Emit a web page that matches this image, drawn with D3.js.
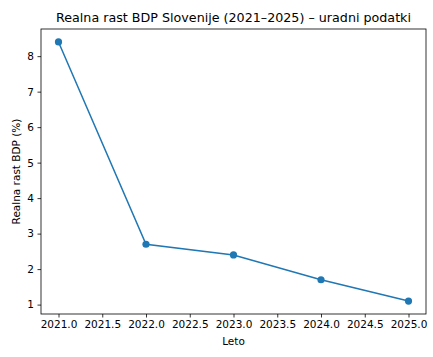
<!DOCTYPE html>
<html><head><meta charset="utf-8">
<script src="https://cdn.jsdelivr.net/npm/d3@7"></script>
<style>body{margin:0;background:#fff}svg{display:block}text{font-family:"DejaVu Sans",sans-serif;fill:#000}</style>
</head><body>
<script>
const years = [2021, 2022, 2023, 2024, 2025];
const growth = [8.4, 2.7, 2.4, 1.7, 1.1];
const xTicks = [2021.0, 2021.5, 2022.0, 2022.5, 2023.0, 2023.5, 2024.0, 2024.5, 2025.0];
const yTicks = [1, 2, 3, 4, 5, 6, 7, 8];

const W = 433, H = 357;
const m = {l: 41, r: 7, t: 29, b: 43};
const svg = d3.select("body").append("svg").attr("width", W).attr("height", H);
const x = d3.scaleLinear().domain([2020.8, 2025.2]).range([m.l, W - m.r]);
const y = d3.scaleLinear().domain([0.735, 8.765]).range([H - m.b, m.t]);

const xa = svg.append("g").attr("transform", `translate(0,${H - m.b})`)
  .call(d3.axisBottom(x).tickValues(xTicks).tickFormat(d3.format(".1f")).tickSize(3.5).tickPadding(3.5));
const ya = svg.append("g").attr("transform", `translate(${m.l},0)`)
  .call(d3.axisLeft(y).tickValues(yTicks).tickFormat(d3.format("d")).tickSize(3.5).tickPadding(3.5));
[xa, ya].forEach(a => {
  a.select(".domain").remove();
  a.selectAll("text").style("font-size", "10.5px").style("font-family", "DejaVu Sans");
  a.selectAll("line").attr("stroke", "#000").attr("stroke-width", 0.8);
});

svg.append("rect").attr("x", m.l).attr("y", m.t).attr("width", W - m.r - m.l).attr("height", H - m.b - m.t)
  .attr("fill", "none").attr("stroke", "#000").attr("stroke-width", 0.8);

const pts = years.map((d, i) => [d, growth[i]]);
svg.append("path").datum(pts)
  .attr("d", d3.line().x(d => x(d[0])).y(d => y(d[1])))
  .attr("fill", "none").attr("stroke", "#1f77b4").attr("stroke-width", 1.5);
svg.selectAll("circle.pt").data(pts).enter().append("circle")
  .attr("cx", d => x(d[0])).attr("cy", d => y(d[1])).attr("r", 3.6).attr("fill", "#1f77b4");

svg.append("text").attr("x", (m.l + W - m.r) / 2).attr("y", 22).attr("text-anchor", "middle")
  .style("font-size", "12.7px").text("Realna rast BDP Slovenije (2021–2025) – uradni podatki");
svg.append("text").attr("x", (m.l + W - m.r) / 2).attr("y", 345).attr("text-anchor", "middle")
  .style("font-size", "10.5px").text("Leto");
svg.append("text").attr("transform", `translate(20,${(m.t + H - m.b) / 2}) rotate(-90)`).attr("text-anchor", "middle")
  .style("font-size", "10.5px").text("Realna rast BDP (%)");
</script>
</body></html>
